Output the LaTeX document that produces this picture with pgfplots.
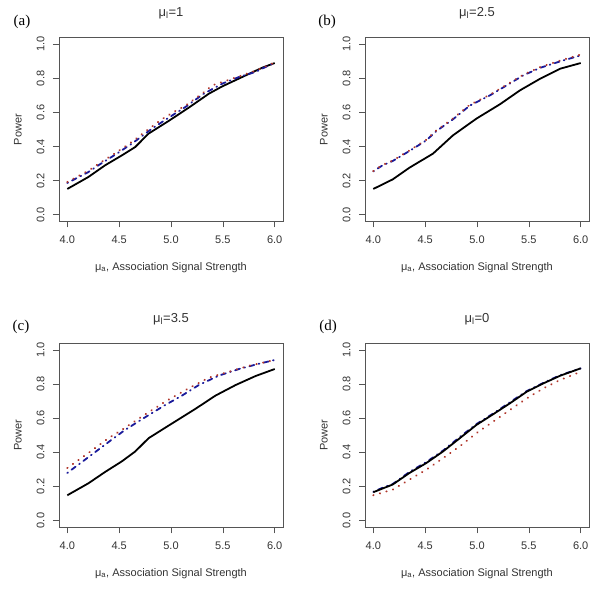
\documentclass[border=0pt]{standalone}
\usepackage{fontspec}
\setmainfont{Liberation Sans}
\newfontfamily\seriffont{Liberation Serif}
\usepackage{pgfplots}
\pgfplotsset{compat=1.18}
\definecolor{axisgray}{HTML}{555555}
\definecolor{ticktext}{HTML}{333333}
\definecolor{rblue}{HTML}{1A1A9A}
\definecolor{rred}{HTML}{B0352A}
\newcommand{\axfont}{\fontsize{11}{13}\selectfont}
\pgfplotsset{
  rpanel/.style={
    scale only axis, width=224pt, height=184pt,
    xmin=3.92, xmax=6.08, ymin=-0.04, ymax=1.04,
    axis line style={draw=axisgray, line width=0.7pt},
    tick style={draw=axisgray, line width=0.7pt},
    tick align=outside, major tick length=6pt,
    xtick={4,4.5,5,5.5,6}, ytick={0,0.2,0.4,0.6,0.8,1},
    xticklabels={4.0,4.5,5.0,5.5,6.0},
    yticklabels={0.0,0.2,0.4,0.6,0.8,1.0},
    xtick pos=bottom, ytick pos=left,
    ticklabel style={font=\axfont, text=ticktext},
    yticklabel style={rotate=90, anchor=south},
    xticklabel shift=5pt, yticklabel shift=5pt,
    xlabel={μ\textsubscript{a}, Association Signal Strength},
    ylabel={Power},
    label style={font=\axfont, text=ticktext},
    xlabel style={at={(axis description cs:0.5,-0.25)}, anchor=center},
    ylabel style={at={(axis description cs:-0.183,0.5)}, anchor=center},
    clip=false,
  },
  blk/.style={black, line width=1.8pt, line join=round},
  blu/.style={rblue, line width=1.8pt, line cap=round, dash pattern=on 0.8pt off 4.5pt on 5pt off 4.5pt},
  rdd/.style={rred, line width=2pt, line cap=round, dash pattern=on 0.3pt off 6.5pt},
}
\begin{document}
\begin{tikzpicture}[x=1pt,y=1pt]
\path[use as bounding box] (0,0) rectangle (600,591);
% (a)
\begin{axis}[rpanel, at={(59pt,369.5pt)}, anchor=south west]
\addplot[blk] coordinates {(4.0,0.151) (4.203,0.221) (4.365,0.290) (4.526,0.348) (4.655,0.397) (4.784,0.476) (4.977,0.550) (5.171,0.628) (5.365,0.710) (5.494,0.753) (5.687,0.808) (5.881,0.863) (6.0,0.890)};
\addplot[blu] coordinates {(4.0,0.186) (4.203,0.250) (4.3,0.290) (4.477,0.358) (4.623,0.417) (4.816,0.505) (4.977,0.569) (5.139,0.632) (5.316,0.710) (5.494,0.769) (5.655,0.808) (5.816,0.838) (5.945,0.877) (6.0,0.890)};
\addplot[rdd] coordinates {(4.0,0.192) (4.203,0.258) (4.3,0.298) (4.477,0.367) (4.623,0.427) (4.719,0.472) (4.897,0.554) (5.026,0.603) (5.139,0.640) (5.316,0.718) (5.397,0.759) (5.59,0.798) (5.816,0.845) (6.0,0.893)};
\end{axis}
% (b)
\begin{axis}[rpanel, at={(365pt,369.5pt)}, anchor=south west]
\addplot[blk] coordinates {(4.0,0.151) (4.187,0.207) (4.349,0.276) (4.575,0.358) (4.769,0.466) (4.995,0.564) (5.221,0.648) (5.415,0.730) (5.609,0.798) (5.803,0.857) (6.0,0.890)};
\addplot[blu] coordinates {(4.0,0.254) (4.09,0.290) (4.187,0.315) (4.349,0.374) (4.511,0.436) (4.607,0.490) (4.769,0.560) (4.93,0.640) (5.124,0.700) (5.286,0.759) (5.447,0.818) (5.609,0.862) (5.803,0.900) (6.0,0.935)};
\addplot[rdd] coordinates {(4.0,0.256) (4.09,0.292) (4.187,0.318) (4.349,0.377) (4.511,0.440) (4.607,0.494) (4.769,0.565) (4.93,0.645) (5.124,0.704) (5.286,0.763) (5.447,0.822) (5.609,0.866) (5.803,0.905) (6.0,0.940)};
\end{axis}
% (c)
\begin{axis}[rpanel, at={(59pt,63.7pt)}, anchor=south west]
\addplot[blk] coordinates {(4.0,0.148) (4.203,0.218) (4.365,0.285) (4.526,0.347) (4.655,0.405) (4.784,0.483) (4.977,0.557) (5.235,0.655) (5.429,0.733) (5.623,0.795) (5.816,0.848) (6.0,0.889)};
\addplot[blu] coordinates {(4.0,0.279) (4.235,0.386) (4.397,0.460) (4.558,0.532) (4.735,0.600) (4.945,0.678) (5.106,0.733) (5.268,0.795) (5.461,0.850) (5.655,0.889) (5.848,0.920) (6.0,0.942)};
\addplot[rdd] coordinates {(4.0,0.308) (4.203,0.396) (4.397,0.483) (4.526,0.532) (4.719,0.610) (4.945,0.698) (5.171,0.776) (5.365,0.838) (5.558,0.873) (5.752,0.908) (6.0,0.942)};
\end{axis}
% (d)
\begin{axis}[rpanel, at={(365pt,63.7pt)}, anchor=south west]
\addplot[blu] coordinates {(4.0,0.168) (4.1,0.195) (4.187,0.214) (4.349,0.285) (4.511,0.343) (4.672,0.410) (4.834,0.490) (4.995,0.566) (5.157,0.628) (5.318,0.694) (5.480,0.760) (5.641,0.808) (5.803,0.853) (6.0,0.893)};
\addplot[blk] coordinates {(4.0,0.166) (4.187,0.211) (4.349,0.279) (4.511,0.337) (4.672,0.405) (4.834,0.483) (4.995,0.561) (5.157,0.624) (5.318,0.688) (5.480,0.756) (5.641,0.805) (5.803,0.850) (6.0,0.893)};
\addplot[rdd] coordinates {(4.0,0.148) (4.187,0.181) (4.349,0.240) (4.511,0.298) (4.672,0.366) (4.834,0.435) (4.995,0.513) (5.157,0.581) (5.318,0.649) (5.480,0.717) (5.641,0.776) (5.803,0.825) (6.0,0.873)};
\end{axis}
% titles and panel letters
\node[font=\fontsize{13}{15}\selectfont, text=ticktext] at (171,578) {μ\textsubscript{l}=1};
\node[font=\fontsize{13}{15}\selectfont, text=ticktext] at (477,578) {μ\textsubscript{l}=2.5};
\node[font=\fontsize{13}{15}\selectfont, text=ticktext] at (171,272) {μ\textsubscript{l}=3.5};
\node[font=\fontsize{13}{15}\selectfont, text=ticktext] at (477,272) {μ\textsubscript{l}=0};
\node[font=\seriffont\fontsize{15}{17}\selectfont] at (22,569) {(a)};
\node[font=\seriffont\fontsize{15}{17}\selectfont] at (327,569) {(b)};
\node[font=\seriffont\fontsize{15}{17}\selectfont] at (21,264) {(c)};
\node[font=\seriffont\fontsize{15}{17}\selectfont] at (328,264) {(d)};
\end{tikzpicture}
\end{document}
